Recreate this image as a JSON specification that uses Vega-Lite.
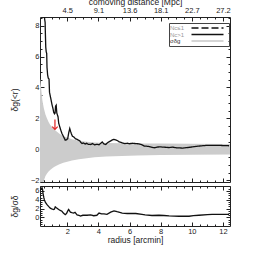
{
  "$schema": "https://vega.github.io/schema/vega-lite/v6.json",
  "padding": {"left": 9, "top": -4, "right": 5, "bottom": 5},
  "spacing": 0,
  "datasets": {
    "band": [
      {"r": 0.25, "lo": -4.5, "hi": 4.6}, {"r": 0.28, "lo": -3.6, "hi": 4.4}, {"r": 0.32, "lo": -3.0, "hi": 4.0},
      {"r": 0.36, "lo": -2.7, "hi": 3.6}, {"r": 0.4, "lo": -2.45, "hi": 3.2}, {"r": 0.45, "lo": -2.2, "hi": 2.9},
      {"r": 0.5, "lo": -2.0, "hi": 2.65}, {"r": 0.55, "lo": -1.85, "hi": 2.45}, {"r": 0.6, "lo": -1.72, "hi": 2.25},
      {"r": 0.7, "lo": -1.55, "hi": 2.0}, {"r": 0.8, "lo": -1.42, "hi": 1.78}, {"r": 0.9, "lo": -1.32, "hi": 1.6},
      {"r": 1.0, "lo": -1.24, "hi": 1.48}, {"r": 1.15, "lo": -1.13, "hi": 1.3}, {"r": 1.3, "lo": -1.05, "hi": 1.17},
      {"r": 1.5, "lo": -0.95, "hi": 1.02}, {"r": 1.75, "lo": -0.86, "hi": 0.86}, {"r": 2.0, "lo": -0.79, "hi": 0.77},
      {"r": 2.3, "lo": -0.72, "hi": 0.66}, {"r": 2.75, "lo": -0.63, "hi": 0.57}, {"r": 3.25, "lo": -0.56, "hi": 0.5},
      {"r": 3.75, "lo": -0.51, "hi": 0.45}, {"r": 4.5, "lo": -0.46, "hi": 0.42}, {"r": 5.5, "lo": -0.42, "hi": 0.4},
      {"r": 6.5, "lo": -0.39, "hi": 0.39}, {"r": 8, "lo": -0.36, "hi": 0.38}, {"r": 10, "lo": -0.34, "hi": 0.37},
      {"r": 12.45, "lo": -0.32, "hi": 0.36}
    ],
    "curve": [
      {"r": 0.25, "v": 14, "series": "Nc>1"}, {"r": 0.45, "v": 11, "series": "Nc>1"}, {"r": 0.49, "v": 9.0, "series": "Nc>1"},
      {"r": 0.55, "v": 8.4, "series": "Nc>1"}, {"r": 0.58, "v": 8.2, "series": "Nc>1"}, {"r": 0.59, "v": 7.7, "series": "Nc>1"},
      {"r": 0.62, "v": 6.6, "series": "Nc>1"}, {"r": 0.65, "v": 6.3, "series": "Nc>1"}, {"r": 0.68, "v": 6.2, "series": "Nc>1"},
      {"r": 0.7, "v": 5.3, "series": "Nc>1"}, {"r": 0.74, "v": 4.8, "series": "Nc>1"}, {"r": 0.78, "v": 4.6, "series": "Nc>1"},
      {"r": 0.83, "v": 4.55, "series": "Nc>1"}, {"r": 0.86, "v": 3.7, "series": "Nc>1"}, {"r": 0.9, "v": 3.5, "series": "Nc>1"},
      {"r": 0.96, "v": 3.2, "series": "Nc>1"}, {"r": 1.02, "v": 2.9, "series": "Nc>1"}, {"r": 1.08, "v": 2.65, "series": "Nc>1"},
      {"r": 1.13, "v": 2.4, "series": "Nc>1"}, {"r": 1.18, "v": 2.3, "series": "Nc>1"}, {"r": 1.22, "v": 2.35, "series": "Nc>1"},
      {"r": 1.25, "v": 2.8, "series": "Nc>1"}, {"r": 1.29, "v": 2.86, "series": "Nc>1"}, {"r": 1.33, "v": 2.35, "series": "Nc>1"},
      {"r": 1.41, "v": 2.1, "series": "Nc>1"}, {"r": 1.45, "v": 1.7, "series": "Nc>1"}, {"r": 1.52, "v": 1.46, "series": "Nc>1"},
      {"r": 1.6, "v": 1.2, "series": "Nc>1"}, {"r": 1.66, "v": 1.03, "series": "Nc>1"}, {"r": 1.75, "v": 0.85, "series": "Nc>1"},
      {"r": 1.87, "v": 0.6, "series": "Nc>1"}, {"r": 1.95, "v": 0.62, "series": "Nc>1"}, {"r": 2.03, "v": 0.7, "series": "Nc>1"},
      {"r": 2.1, "v": 1.1, "series": "Nc>1"}, {"r": 2.16, "v": 1.35, "series": "Nc>1"}, {"r": 2.22, "v": 1.15, "series": "Nc>1"},
      {"r": 2.26, "v": 1.03, "series": "Nc>1"}, {"r": 2.33, "v": 0.85, "series": "Nc>1"}, {"r": 2.41, "v": 0.82, "series": "Nc>1"},
      {"r": 2.52, "v": 0.7, "series": "Nc>1"}, {"r": 2.63, "v": 0.65, "series": "Nc>1"}, {"r": 2.72, "v": 0.6, "series": "Nc>1"},
      {"r": 2.8, "v": 0.56, "series": "Nc>1"}, {"r": 2.88, "v": 0.45, "series": "Nc>1"}, {"r": 2.95, "v": 0.39, "series": "Nc>1"},
      {"r": 3.05, "v": 0.42, "series": "Nc>1"}, {"r": 3.15, "v": 0.35, "series": "Nc>1"}, {"r": 3.25, "v": 0.4, "series": "Nc>1"},
      {"r": 3.35, "v": 0.33, "series": "Nc>1"}, {"r": 3.5, "v": 0.32, "series": "Nc>1"}, {"r": 3.62, "v": 0.38, "series": "Nc>1"},
      {"r": 3.75, "v": 0.3, "series": "Nc>1"}, {"r": 3.9, "v": 0.33, "series": "Nc>1"}, {"r": 4.04, "v": 0.3, "series": "Nc>1"},
      {"r": 4.15, "v": 0.4, "series": "Nc>1"}, {"r": 4.25, "v": 0.48, "series": "Nc>1"}, {"r": 4.35, "v": 0.36, "series": "Nc>1"},
      {"r": 4.47, "v": 0.32, "series": "Nc>1"}, {"r": 4.6, "v": 0.45, "series": "Nc>1"}, {"r": 4.79, "v": 0.55, "series": "Nc>1"},
      {"r": 4.9, "v": 0.62, "series": "Nc>1"}, {"r": 5.0, "v": 0.65, "series": "Nc>1"}, {"r": 5.1, "v": 0.62, "series": "Nc>1"},
      {"r": 5.21, "v": 0.58, "series": "Nc>1"}, {"r": 5.35, "v": 0.48, "series": "Nc>1"}, {"r": 5.53, "v": 0.43, "series": "Nc>1"},
      {"r": 5.7, "v": 0.38, "series": "Nc>1"}, {"r": 5.85, "v": 0.4, "series": "Nc>1"}, {"r": 6.0, "v": 0.37, "series": "Nc>1"},
      {"r": 6.18, "v": 0.4, "series": "Nc>1"}, {"r": 6.4, "v": 0.38, "series": "Nc>1"}, {"r": 6.61, "v": 0.36, "series": "Nc>1"},
      {"r": 6.8, "v": 0.3, "series": "Nc>1"}, {"r": 6.95, "v": 0.22, "series": "Nc>1"}, {"r": 7.2, "v": 0.2, "series": "Nc>1"},
      {"r": 7.45, "v": 0.14, "series": "Nc>1"}, {"r": 7.6, "v": 0.11, "series": "Nc>1"}, {"r": 7.89, "v": 0.17, "series": "Nc>1"},
      {"r": 8.2, "v": 0.15, "series": "Nc>1"}, {"r": 8.54, "v": 0.12, "series": "Nc>1"}, {"r": 8.75, "v": 0.15, "series": "Nc>1"},
      {"r": 9.0, "v": 0.11, "series": "Nc>1"}, {"r": 9.4, "v": 0.09, "series": "Nc>1"}, {"r": 9.7, "v": 0.12, "series": "Nc>1"},
      {"r": 10.0, "v": 0.16, "series": "Nc>1"}, {"r": 10.46, "v": 0.22, "series": "Nc>1"}, {"r": 10.9, "v": 0.26, "series": "Nc>1"},
      {"r": 11.3, "v": 0.27, "series": "Nc>1"}, {"r": 11.8, "v": 0.26, "series": "Nc>1"}, {"r": 12.39, "v": 0.24, "series": "Nc>1"}
    ],
    "arrow": [{"r": 1.21, "from": 1.94, "to": 1.3}],
    "ratio": [
      {"r": 0.27, "v": 6.2}, {"r": 0.33, "v": 6.5}, {"r": 0.38, "v": 6.7}, {"r": 0.42, "v": 6.2}, {"r": 0.44, "v": 5.5},
      {"r": 0.5, "v": 4.4}, {"r": 0.53, "v": 4.0}, {"r": 0.6, "v": 3.4}, {"r": 0.7, "v": 2.9}, {"r": 0.8, "v": 2.5},
      {"r": 0.91, "v": 2.1}, {"r": 1.0, "v": 1.95}, {"r": 1.13, "v": 1.8}, {"r": 1.18, "v": 1.9}, {"r": 1.23, "v": 2.4},
      {"r": 1.3, "v": 2.2}, {"r": 1.45, "v": 1.8}, {"r": 1.55, "v": 1.6}, {"r": 1.66, "v": 1.4}, {"r": 1.75, "v": 1.0},
      {"r": 1.87, "v": 0.63}, {"r": 1.95, "v": 0.9}, {"r": 2.05, "v": 1.6}, {"r": 2.09, "v": 1.8}, {"r": 2.2, "v": 1.2},
      {"r": 2.3, "v": 1.1}, {"r": 2.41, "v": 1.0}, {"r": 2.5, "v": 1.15}, {"r": 2.63, "v": 0.6}, {"r": 2.75, "v": 0.5},
      {"r": 2.84, "v": 0.3}, {"r": 3.0, "v": 0.5}, {"r": 3.27, "v": 0.5}, {"r": 3.5, "v": 0.6}, {"r": 3.7, "v": 0.4},
      {"r": 3.9, "v": 0.5}, {"r": 4.04, "v": 1.0}, {"r": 4.2, "v": 0.8}, {"r": 4.36, "v": 0.8}, {"r": 4.55, "v": 0.7},
      {"r": 4.79, "v": 1.2}, {"r": 5.0, "v": 1.5}, {"r": 5.2, "v": 1.3}, {"r": 5.53, "v": 1.0}, {"r": 5.85, "v": 0.9},
      {"r": 6.16, "v": 0.9}, {"r": 6.4, "v": 0.9}, {"r": 6.8, "v": 0.7}, {"r": 7.0, "v": 0.6}, {"r": 7.44, "v": 0.45},
      {"r": 7.89, "v": 0.5}, {"r": 8.2, "v": 0.45}, {"r": 8.54, "v": 0.35}, {"r": 9.18, "v": 0.28}, {"r": 9.82, "v": 0.28},
      {"r": 10.1, "v": 0.4}, {"r": 10.46, "v": 0.5}, {"r": 11.0, "v": 0.65}, {"r": 11.3, "v": 0.7}, {"r": 11.75, "v": 0.7},
      {"r": 12.39, "v": 0.7}
    ]
  },
  "config": {
    "font": "Liberation Sans",
    "view": {"stroke": "#222", "strokeWidth": 1},
    "axis": {
      "domain": false, "grid": false, "labelFontSize": 7.5, "titleFontSize": 8.5,
      "titleFontWeight": "normal", "labelColor": "#222", "titleColor": "#222",
      "tickColor": "#222", "tickWidth": 1
    },
    "legend": {
      "orient": "none", "legendX": 129, "legendY": 6,
      "strokeColor": "#444", "padding": 2, "rowPadding": 0.5,
      "symbolType": "M-8,0H8", "symbolSize": 16, "symbolOffset": 33.5,
      "labelFontSize": 6, "labelColor": "#888", "labelAlign": "left", "labelOffset": -40.5
    }
  },
  "vconcat": [
    {
      "width": 190,
      "height": 165,
      "layer": [
        {
          "data": {"name": "band"},
          "mark": {"type": "area", "color": "#cccccc", "clip": true},
          "encoding": {
            "x": {"field": "r", "type": "quantitative", "scale": {"domain": [0.25, 12.45], "nice": false, "zero": false},
              "axis": {"orient": "bottom", "labels": false, "title": null,
                "values": [0.5,1,1.5,2,2.5,3,3.5,4,4.5,5,5.5,6,6.5,7,7.5,8,8.5,9,9.5,10,10.5,11,11.5,12],
                "tickSize": {"condition": {"test": "datum.value % 2 === 0", "value": -4}, "value": -2}}},
            "y": {"field": "lo", "type": "quantitative", "scale": {"domain": [-2.1, 8.55], "nice": false, "zero": false},
              "axis": {"orient": "left", "title": "δg(<r)", "titleX": -21,
                "values": [-2,-1.5,-1,-0.5,0,0.5,1,1.5,2,2.5,3,3.5,4,4.5,5,5.5,6,6.5,7,7.5,8,8.5],
                "labelExpr": "datum.value % 2 === 0 ? format(datum.value, 'd') : ''",
                "labelPadding": 5,
                "tickSize": {"condition": {"test": "datum.value % 2 === 0", "value": -4}, "value": -2}}},
            "y2": {"field": "hi"}
          }
        },
        {
          "mark": {"type": "rule", "color": "#999999", "strokeWidth": 1.5},
          "encoding": {
            "x": {"datum": 0.25, "type": "quantitative", "axis": null},
            "x2": {"datum": 12.45},
            "y": {"datum": 0, "type": "quantitative", "axis": null}
          }
        },
        {
          "data": {"name": "curve"},
          "mark": {"type": "line", "clip": true},
          "encoding": {
            "x": {"field": "r", "type": "quantitative",
              "axis": {"orient": "top", "title": "comoving distance [Mpc]", "titleY": -13, "titleBaseline": "alphabetic",
                "values": [0.5,1,1.5,2,2.5,3,3.5,4,4.5,5,5.5,6,6.5,7,7.5,8,8.5,9,9.5,10,10.5,11,11.5,12],
                "labelExpr": "datum.value === 2 ? '4.5' : datum.value === 4 ? '9.1' : datum.value === 6 ? '13.6' : datum.value === 8 ? '18.1' : datum.value === 10 ? '22.7' : datum.value === 12 ? '27.2' : ''",
                "labelPadding": 6.5,
                "tickSize": {"condition": {"test": "datum.value % 2 === 0", "value": -4}, "value": -2}}},
            "y": {"field": "v", "type": "quantitative",
              "axis": {"orient": "right", "labels": false, "title": null,
                "values": [-2,-1.5,-1,-0.5,0,0.5,1,1.5,2,2.5,3,3.5,4,4.5,5,5.5,6,6.5,7,7.5,8,8.5],
                "tickSize": {"condition": {"test": "datum.value % 2 === 0", "value": -4}, "value": -2}}},
            "color": {"field": "series", "type": "ordinal",
              "scale": {"domain": ["Nc≤1", "Nc>1", "σδg"], "range": ["#111111", "#111111", "#c8c8c8"]},
              "legend": {"title": null,
                "encode": {"labels": {"update": {"fill": {"signal": "datum.value === 'σδg' ? '#333333' : '#999999'"}}}}}},
            "strokeDash": {"field": "series", "type": "ordinal",
              "scale": {"domain": ["Nc≤1", "Nc>1", "σδg"], "range": [[7, 3], [1, 0], [1, 0]]},
              "legend": {"title": null}},
            "strokeWidth": {"field": "series", "type": "ordinal",
              "scale": {"domain": ["Nc≤1", "Nc>1", "σδg"], "range": [1.3, 1.3, 3]},
              "legend": {"title": null}}
          }
        },
        {
          "data": {"name": "arrow"},
          "mark": {"type": "rule", "color": "#e02020", "strokeWidth": 1.2},
          "encoding": {
            "x": {"field": "r", "type": "quantitative", "axis": null},
            "y": {"field": "from", "type": "quantitative", "axis": null},
            "y2": {"field": "to"}
          }
        },
        {
          "data": {"name": "arrow"},
          "mark": {"type": "point", "shape": "M-1,-1L0,0L1,-1", "filled": false, "color": "#e02020", "size": 30, "strokeWidth": 1.2, "opacity": 1},
          "encoding": {
            "x": {"field": "r", "type": "quantitative", "axis": null},
            "y": {"field": "to", "type": "quantitative", "axis": null}
          }
        }
      ]
    },
    {
      "width": 190,
      "height": 40,
      "layer": [
        {
          "data": {"name": "ratio"},
          "mark": {"type": "line", "color": "#111111", "strokeWidth": 1.3, "clip": true},
          "encoding": {
            "x": {"field": "r", "type": "quantitative", "scale": {"domain": [0.25, 12.45], "nice": false, "zero": false},
              "axis": {"orient": "bottom", "title": "radius [arcmin]", "titlePadding": 1,
                "values": [0.5,1,1.5,2,2.5,3,3.5,4,4.5,5,5.5,6,6.5,7,7.5,8,8.5,9,9.5,10,10.5,11,11.5,12],
                "labelExpr": "datum.value % 2 === 0 ? format(datum.value, 'd') : ''",
                "labelPadding": 5,
                "tickSize": {"condition": {"test": "datum.value % 2 === 0", "value": -4}, "value": -2}}},
            "y": {"field": "v", "type": "quantitative", "scale": {"domain": [-1.92, 7.1], "nice": false, "zero": false},
              "axis": {"orient": "left", "title": "δg/σδ", "titleX": -21,
                "values": [-1.5,-1,-0.5,0,0.5,1,1.5,2,2.5,3,3.5,4,4.5,5,5.5,6,6.5,7],
                "labelExpr": "datum.value % 2 === 0 ? format(datum.value, 'd') : ''",
                "labelPadding": 5,
                "tickSize": {"condition": {"test": "datum.value % 2 === 0", "value": -4}, "value": -2}}}
          }
        },
        {
          "mark": {"type": "rule", "color": "#111111", "strokeWidth": 1, "strokeDash": [4, 2, 1, 2]},
          "encoding": {
            "x": {"datum": 0.25, "type": "quantitative",
              "axis": {"orient": "top", "labels": false, "title": null,
                "values": [0.5,1,1.5,2,2.5,3,3.5,4,4.5,5,5.5,6,6.5,7,7.5,8,8.5,9,9.5,10,10.5,11,11.5,12],
                "tickSize": {"condition": {"test": "datum.value % 2 === 0", "value": -4}, "value": -2}}},
            "x2": {"datum": 12.45},
            "y": {"datum": 6, "type": "quantitative",
              "axis": {"orient": "right", "labels": false, "title": null,
                "values": [-1.5,-1,-0.5,0,0.5,1,1.5,2,2.5,3,3.5,4,4.5,5,5.5,6,6.5,7],
                "tickSize": {"condition": {"test": "datum.value % 2 === 0", "value": -4}, "value": -2}}}
          }
        }
      ]
    }
  ]
}
